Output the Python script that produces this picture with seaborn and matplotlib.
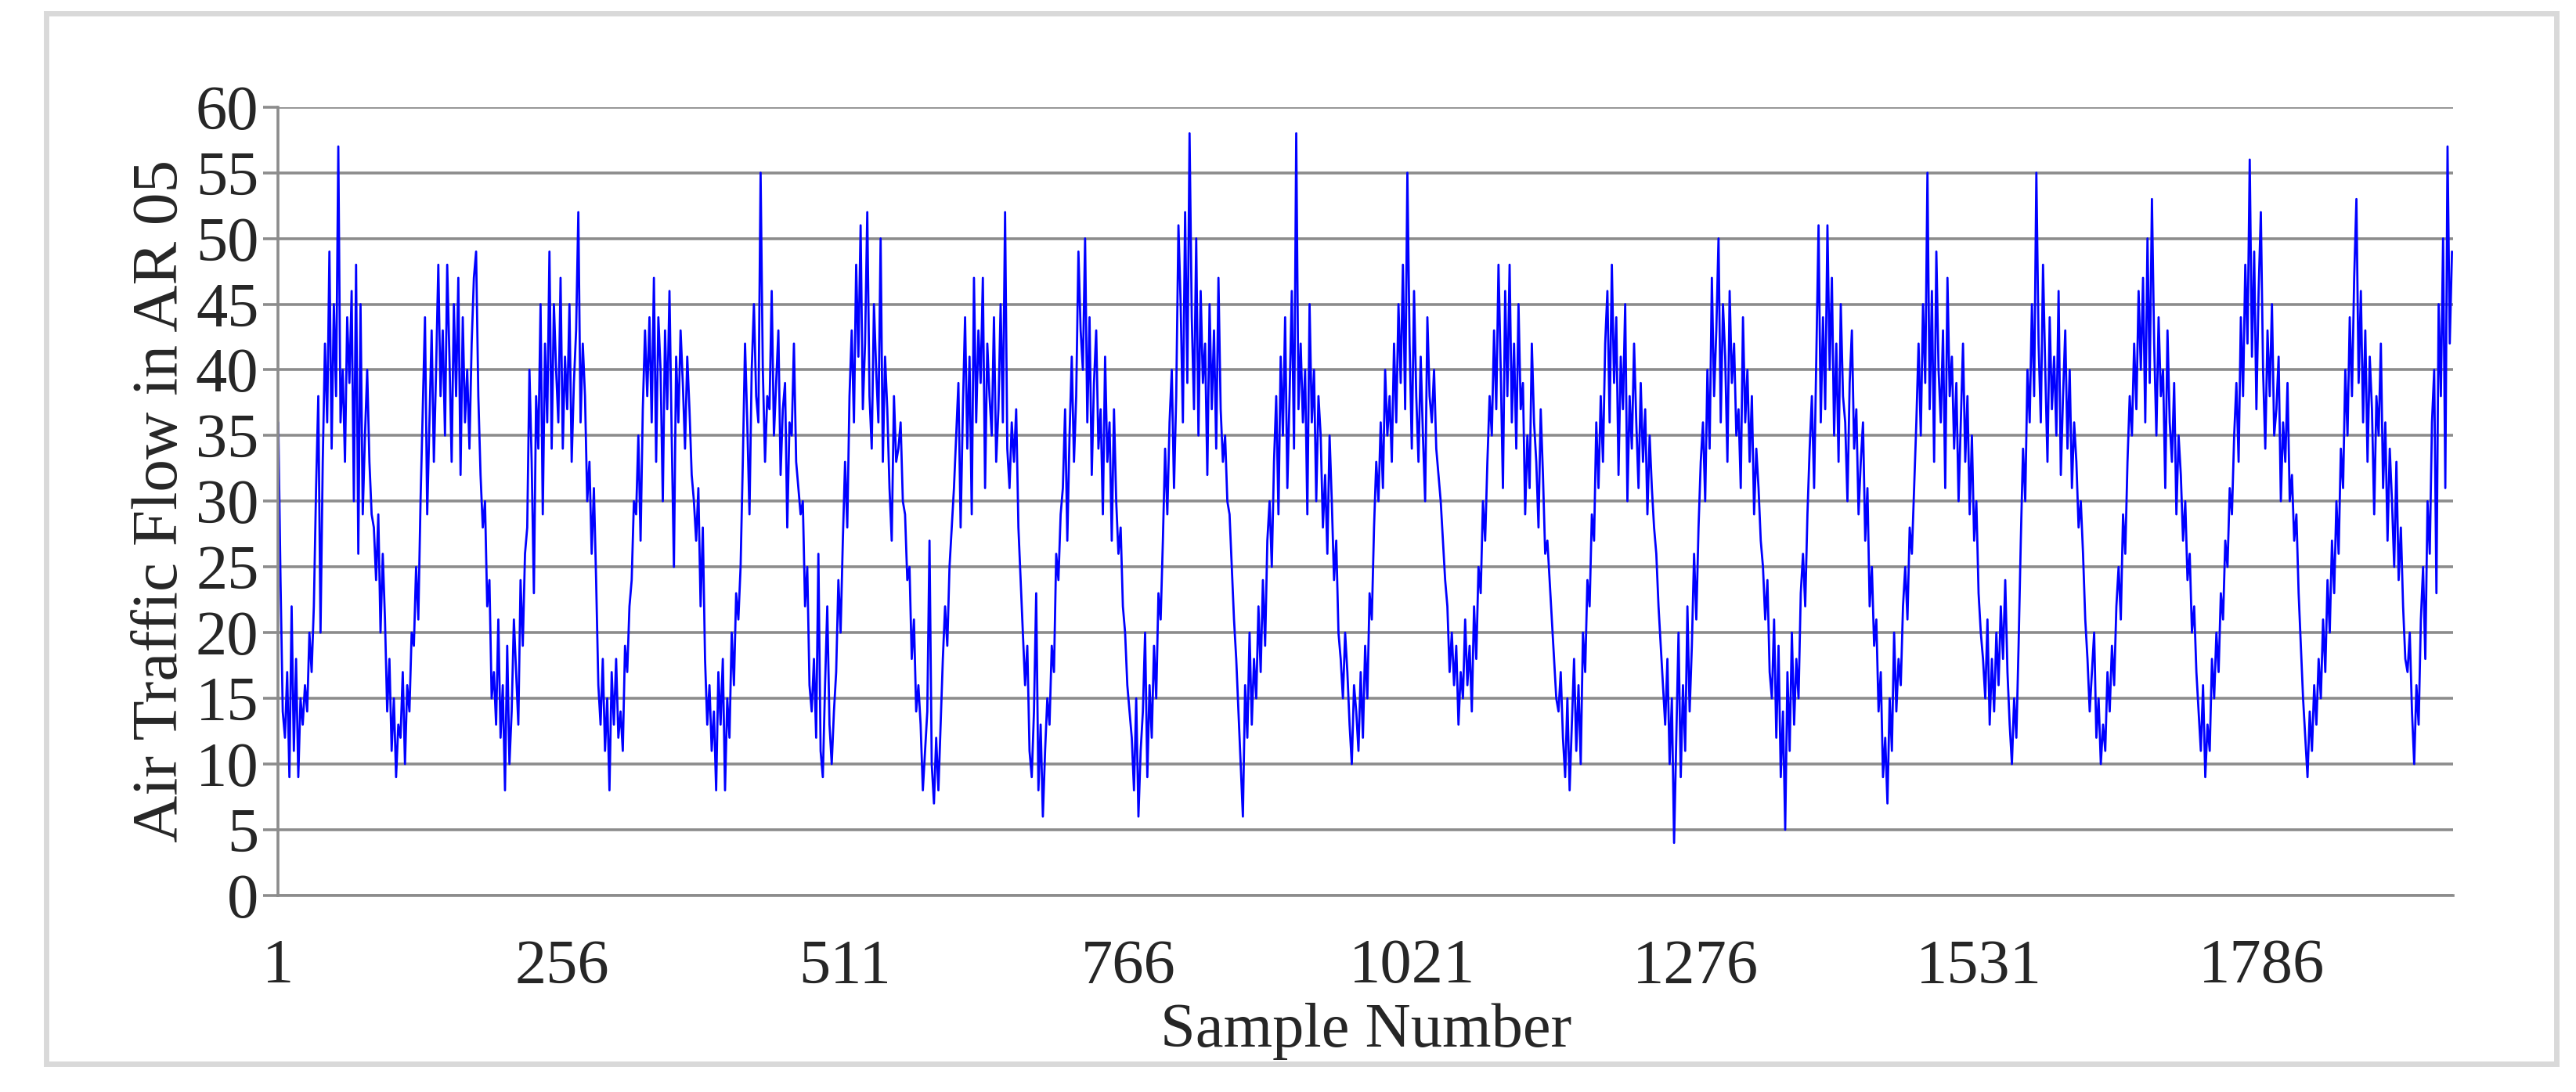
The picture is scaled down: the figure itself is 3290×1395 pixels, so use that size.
import numpy as np
import pandas as pd
import matplotlib
matplotlib.use("Agg")
import matplotlib.pyplot as plt
import seaborn as sns
from matplotlib.patches import Rectangle

d01 = [36,24,14,12,17,9,22,11,18,9,15,13,16,14,20,17,22,31,38,20,33,42,36,49,34,45,38,57,36,40,33,44,39,46,30,48,26,45,29,35,40,33,29,28,24,29,20,26]
d02 = [21,14,18,11,15,9,13,12,17,10,16,14,20,19,25,21,30,37,44,29,36,43,33,40,48,38,43,35,48,41,33,45,38,47,32,44,36,40,34,42,47,49,38,32,28,30,22,24]
d03 = [15,17,13,21,12,16,8,19,10,14,21,17,13,24,19,26,28,40,33,23,38,34,45,29,42,36,49,34,45,40,36,47,34,41,37,45,33,39,43,52,36,42,38,30,33,26,31,24]
d04 = [16,13,18,11,15,8,17,13,18,12,14,11,19,17,22,24,30,29,35,27,37,43,38,44,36,47,33,44,40,30,43,37,46,35,25,41,36,43,39,34,41,37,32,30,27,31,22,28]
d05 = [18,13,16,11,14,8,17,13,18,8,15,12,20,16,23,21,25,33,42,36,29,40,45,38,36,55,40,33,38,37,46,35,39,43,32,37,39,28,36,35,42,33,31,29,30,22,25,16]
d06 = [14,18,12,26,11,9,16,22,13,10,14,17,24,20,27,33,28,38,43,36,48,41,51,37,42,52,38,34,45,40,36,50,33,41,37,31,27,38,33,34,36,30,29,24,25,18,21,14]
d07 = [16,13,8,11,14,27,10,7,12,8,13,18,22,19,25,28,31,35,39,28,37,44,34,41,29,47,36,43,39,47,31,42,38,35,44,33,37,45,36,52,34,31,36,33,37,28,24,20]
d08 = [16,19,11,9,14,23,8,13,6,11,15,13,19,17,26,24,29,31,37,27,35,41,33,38,49,43,40,50,36,44,32,39,43,34,37,29,41,33,36,27,37,30,26,28,22,20,16,14]
d09 = [12,8,15,6,11,14,20,9,16,12,19,15,23,21,27,34,29,36,40,31,38,51,45,36,52,39,58,44,37,50,35,46,39,42,32,45,37,43,34,47,37,33,35,30,29,25,21,18]
d10 = [14,10,6,16,12,20,13,18,15,22,17,24,19,27,30,25,33,38,29,41,35,44,31,38,46,34,58,37,42,36,40,29,45,36,40,30,38,35,28,32,26,35,30,24,27,20,18,15]
d11 = [20,17,13,10,16,14,11,17,12,19,15,23,21,28,33,30,36,31,40,35,38,33,42,36,45,39,48,37,55,42,34,46,38,33,41,35,30,44,38,36,40,34,32,30,27,24,22,17]
d12 = [20,16,19,13,17,15,21,16,19,14,22,18,25,23,30,27,33,38,35,43,37,48,40,31,46,38,48,36,42,34,45,37,39,29,35,31,42,36,33,28,37,32,26,27,24,21,18,15]
d13 = [14,17,12,9,15,8,13,18,11,16,10,20,17,24,22,29,27,36,31,38,33,42,46,36,48,39,44,32,41,37,45,30,38,34,42,36,31,39,33,37,29,35,31,28,26,22,19,16]
d14 = [13,18,10,15,4,12,20,9,16,11,22,14,19,26,21,28,33,36,30,40,34,47,38,43,50,36,45,41,33,46,39,42,35,37,31,44,36,40,33,38,29,34,31,27,25,21,24,17]
d15 = [15,21,12,19,9,14,5,17,11,20,13,18,15,23,26,22,29,34,38,31,41,51,36,44,37,51,40,47,35,42,33,45,38,36,30,39,43,34,37,29,33,36,27,31,22,25,19,21]
d16 = [14,17,9,12,7,15,11,20,14,18,16,22,25,21,28,26,31,36,42,35,45,39,55,37,46,33,49,40,36,43,31,47,38,41,34,39,30,36,42,33,38,29,35,27,30,23,20,18]
d17 = [15,21,13,18,14,20,16,22,18,24,17,13,10,15,12,19,27,34,30,40,36,45,38,55,42,36,48,40,33,44,37,41,35,46,32,38,43,34,40,31,36,33,28,30,26,21,18,14]
d18 = [17,20,12,15,10,13,11,17,14,19,16,22,25,21,29,26,33,38,35,42,37,46,40,47,36,50,39,53,42,35,44,38,40,31,43,36,33,39,29,35,32,27,30,24,26,20,22,17]
d19 = [14,11,16,9,13,11,18,15,20,17,23,21,27,25,31,29,35,39,33,44,38,48,42,56,41,49,37,46,52,40,34,43,38,45,35,37,41,30,36,33,39,30,32,27,29,23,19,15]
d20 = [12,9,14,11,16,13,18,15,21,17,24,20,27,23,30,26,34,31,40,35,44,38,47,53,39,46,36,43,33,41,37,29,38,35,42,31,36,27,34,30,25,33,24,28,22,18,17,20]
tail = [14,10,16,13,21,25,18,30,26,36,40,23,45,38,50,31,57,42,49]

x_tick_labels = ["1", "256", "511", "766", "1021", "1276", "1531", "1786"]
y_ticks = list(range(0, 61, 5))

values = (d01 + d02 + d03 + d04 + d05 + d06 + d07 + d08 + d09 + d10 +
          d11 + d12 + d13 + d14 + d15 + d16 + d17 + d18 + d19 + d20 + tail)
samples = [1 + 2 * i for i in range(len(values))]
df = pd.DataFrame({"Sample": samples, "Flow": values})

sns.set_theme(style="white")
plt.rcParams["font.family"] = ["Liberation Serif", "DejaVu Serif"]

fig = plt.figure(figsize=(16.455, 6.975), dpi=200)
ax = fig.add_axes([0.108, 0.18, 0.844, 0.722])
sns.lineplot(data=df, x="Sample", y="Flow", ax=ax, color="#0000ff", linewidth=1.0)

ax.set_xlim(1, samples[-1] + 1)
ax.set_ylim(0, 60)
ax.set_yticks(y_ticks)
ax.set_yticklabels([str(v) for v in y_ticks], fontsize=29)
ax.yaxis.grid(True, color="#8c8c8c", linewidth=1.3)
ax.set_axisbelow(True)
ax.tick_params(axis="y", length=7, width=1.3, color="#8c8c8c", pad=2, left=True)
xt = [int(s) for s in x_tick_labels]
ax.set_xticks(xt)
ax.set_xticklabels(x_tick_labels, fontsize=29)
ax.tick_params(axis="x", length=0, pad=20)
for s in ["top", "right"]:
    ax.spines[s].set_visible(False)
for s in ["left", "bottom"]:
    ax.spines[s].set_color("#8c8c8c")
    ax.spines[s].set_linewidth(1.3)
ax.set_xlabel("Sample Number", fontsize=29, labelpad=3)
ax.set_ylabel("Air Traffic Flow in AR 05", fontsize=30, labelpad=2)

fig.patches.append(Rectangle((0.018, 0.026), 0.974, 0.962, transform=fig.transFigure,
                             fill=False, edgecolor="#d9d9d9", linewidth=2.5))

fig.savefig("out.png", dpi=200)
